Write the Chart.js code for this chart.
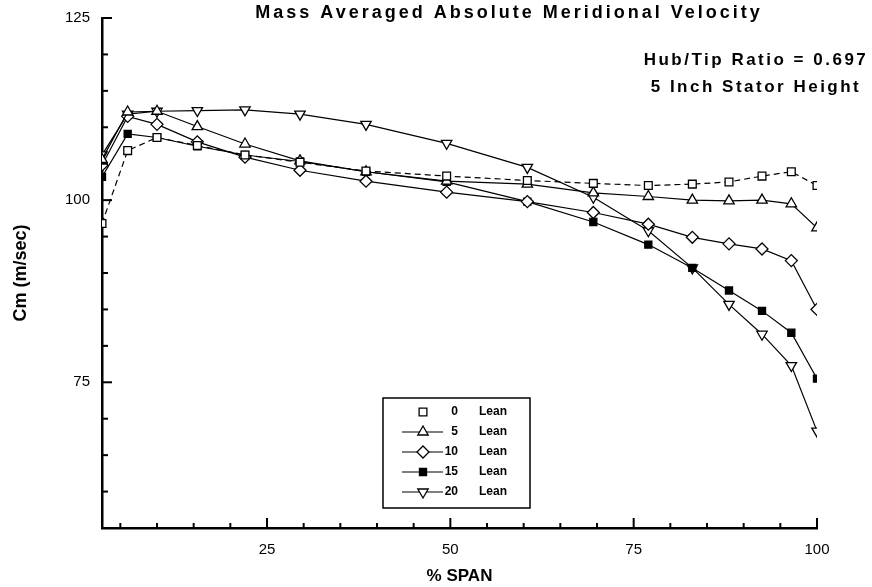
<!DOCTYPE html>
<html>
<head>
<meta charset="utf-8">
<script src="https://cdn.jsdelivr.net/npm/chart.js@4.4.0/dist/chart.umd.min.js"></script>
<style>
  body { margin: 0; background: #fff; }
  #wrap { width: 872px; height: 587px; }
</style>
</head>
<body>
<div id="wrap"><canvas id="myChart" width="872" height="587"></canvas></div>
<script>
// % span stations
var span = [2.5, 6, 10, 15.5, 22, 29.5, 38.5, 49.5, 60.5, 69.5, 77, 83, 88, 92.5, 96.5, 100];

// Cm (m/sec) for each lean angle
var lean0  = [96.8, 106.8, 108.6, 107.5, 106.2, 105.2, 104.0, 103.3, 102.7, 102.3, 102.0, 102.2, 102.5, 103.3, 103.9, 102.0];
var lean5  = [105.6, 112.1, 112.2, 110.1, 107.7, 105.4, 103.9, 102.6, 102.2, 101.0, 100.5, 100.0, 99.9, 100.0, 99.5, 96.2];
var lean10 = [104.8, 111.5, 110.4, 108.0, 105.9, 104.1, 102.6, 101.1, 99.8, 98.3, 96.7, 94.9, 94.0, 93.3, 91.7, 85.0];
var lean15 = [103.2, 109.1, 108.6, 107.4, 106.2, 105.3, 103.9, 102.5, 99.8, 97.0, 93.9, 90.7, 87.6, 84.8, 81.8, 75.5];
var lean20 = [106.2, 111.8, 112.2, 112.3, 112.4, 111.8, 110.4, 107.8, 104.5, 100.4, 95.8, 90.7, 85.7, 81.6, 77.3, 68.3];

var leanNames = ['0', '5', '10', '15', '20'];

// axis ticks
var xTicks = [5, 10, 15, 20, 25, 30, 35, 40, 45, 50, 55, 60, 65, 70, 75, 80, 85, 90, 95, 100];
var xMajor = [25, 50, 75, 100];
var yTicks = [60, 65, 70, 75, 80, 85, 90, 95, 100, 105, 110, 115, 120, 125];
var yMajor = [75, 100, 125];

var FONT = "'Liberation Sans', Arial, sans-serif";

function pts(vals) {
    var out = [];
    for (var i = 0; i < span.length; i++) {
        out.push({x: span[i], y: vals[i]});
    }
    return out;
}

var styles = [
    {pointStyle: 'rect', rotation: 0, radius: 5.5, fill: '#fff', dash: [6, 4]},
    {pointStyle: 'triangle', rotation: 0, radius: 6, fill: '#fff', dash: []},
    {pointStyle: 'rectRot', rotation: 0, radius: 6, fill: '#fff', dash: []},
    {pointStyle: 'rect', rotation: 0, radius: 5, fill: '#000', dash: []},
    {pointStyle: 'triangle', rotation: 180, radius: 6, fill: '#fff', dash: []}
];
var series = [lean0, lean5, lean10, lean15, lean20];

var datasets = [];
for (var i = 0; i < series.length; i++) {
    var s = styles[i];
    datasets.push({
        label: leanNames[i] + ' Lean',
        data: pts(series[i]),
        borderColor: '#000',
        borderWidth: 1.2,
        borderDash: s.dash,
        backgroundColor: s.fill,
        pointStyle: s.pointStyle,
        pointRotation: s.rotation,
        pointRadius: s.radius,
        pointBorderWidth: 1.3,
        pointBackgroundColor: s.fill,
        pointBorderColor: '#000',
        tension: 0
    });
}

// inward tick marks on both axes
var tickMarks = {
    id: 'tickMarks',
    afterDraw: function(chart) {
        var ctx = chart.ctx, a = chart.chartArea;
        var xs = chart.scales.x, ys = chart.scales.y;
        ctx.save();
        ctx.strokeStyle = '#000';
        ctx.lineWidth = 2;
        yTicks.forEach(function(v) {
            var p = ys.getPixelForValue(v);
            var len = yMajor.indexOf(v) >= 0 ? 10 : 6;
            ctx.beginPath();
            ctx.moveTo(a.left, p);
            ctx.lineTo(a.left + len, p);
            ctx.stroke();
        });
        xTicks.forEach(function(v) {
            var p = xs.getPixelForValue(v);
            var len = xMajor.indexOf(v) >= 0 ? 10 : 5;
            ctx.beginPath();
            ctx.moveTo(p, a.bottom);
            ctx.lineTo(p, a.bottom - len);
            ctx.stroke();
        });
        ctx.restore();
    }
};

// titles and the boxed legend
var notes = {
    id: 'notes',
    afterDraw: function(chart) {
        var ctx = chart.ctx;
        ctx.save();
        ctx.fillStyle = '#000';
        ctx.textAlign = 'center';
        ctx.textBaseline = 'middle';
        ctx.letterSpacing = '3px';
        ctx.font = 'bold 18px ' + FONT;
        ctx.fillText('Mass Averaged Absolute Meridional Velocity', 509, 13);
        ctx.letterSpacing = '2.5px';
        ctx.font = 'bold 17px ' + FONT;
        ctx.fillText('Hub/Tip Ratio = 0.697', 756, 60);
        ctx.fillText('5 Inch Stator Height', 756, 87);
        ctx.letterSpacing = '0px';

        // legend box
        var bx = 383, by = 398, bw = 147, bh = 110;
        ctx.lineWidth = 1.5;
        ctx.strokeStyle = '#000';
        ctx.strokeRect(bx, by, bw, bh);
        for (var i = 0; i < datasets.length; i++) {
            var s = styles[i];
            var ry = by + 14 + i * 20;
            if (i > 0) {
                ctx.lineWidth = 1.2;
                ctx.beginPath();
                ctx.moveTo(bx + 19, ry);
                ctx.lineTo(bx + 60, ry);
                ctx.stroke();
            }
            ctx.fillStyle = s.fill;
            ctx.lineWidth = 1.3;
            Chart.helpers.drawPoint(ctx, {pointStyle: s.pointStyle, rotation: s.rotation, radius: s.radius, borderWidth: 1.3}, bx + 40, ry);
            ctx.fillStyle = '#000';
            ctx.font = 'bold 12px ' + FONT;
            ctx.textAlign = 'right';
            ctx.fillText(leanNames[i], bx + 75, ry);
            ctx.textAlign = 'left';
            ctx.fillText('Lean', bx + 96, ry);
        }
        ctx.restore();
    }
};

var ctx = document.getElementById('myChart').getContext('2d');
var chart = new Chart(ctx, {
    type: 'line',
    data: {datasets: datasets},
    options: {
        responsive: false,
        animation: false,
        devicePixelRatio: 1,
        layout: {padding: {top: 18, right: 55, left: 0, bottom: 0}},
        plugins: {legend: {display: false}, title: {display: false}, tooltip: {enabled: false}},
        scales: {
            x: {
                type: 'linear',
                min: 2.5,
                max: 100,
                afterBuildTicks: function(scale) {
                    scale.ticks = xTicks.map(function(v) { return {value: v}; });
                },
                afterFit: function(scale) { scale.height = 59; },
                grid: {display: false},
                border: {display: true, color: '#000', width: 2.5},
                ticks: {
                    autoSkip: false,
                    maxRotation: 0,
                    padding: 5,
                    color: '#000',
                    font: {family: FONT, size: 15},
                    callback: function(v) { return xMajor.indexOf(v) >= 0 ? String(v) : ''; }
                },
                title: {display: true, text: '% SPAN', color: '#000', padding: {top: 6, bottom: 0},
                        font: {family: FONT, size: 17, weight: 'bold'}}
            },
            y: {
                type: 'linear',
                min: 55,
                max: 125,
                afterBuildTicks: function(scale) {
                    scale.ticks = yTicks.map(function(v) { return {value: v}; });
                },
                afterFit: function(scale) { scale.width = 102; },
                grid: {display: false},
                border: {display: true, color: '#000', width: 2.5},
                ticks: {
                    autoSkip: false,
                    padding: 4,
                    color: '#000',
                    font: {family: FONT, size: 15},
                    callback: function(v) { return yMajor.indexOf(v) >= 0 ? String(v) : ''; }
                },
                title: {display: true, text: 'Cm (m/sec)', color: '#000', padding: {top: 10, bottom: 4},
                        font: {family: FONT, size: 18, weight: 'bold'}}
            }
        }
    },
    plugins: [tickMarks, notes]
});
</script>
</body>
</html>
